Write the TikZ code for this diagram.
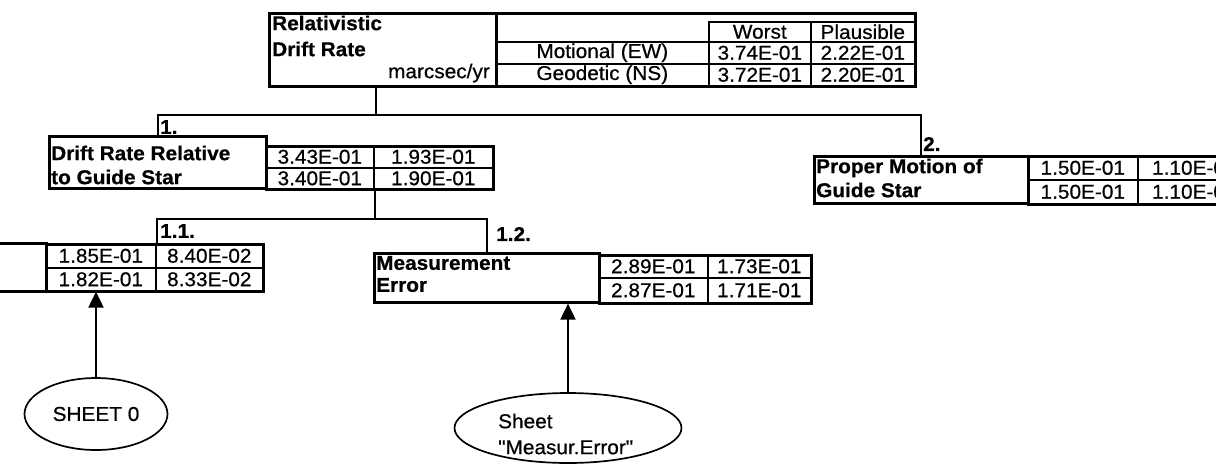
\documentclass[tikz,border=0pt]{standalone}
\usepackage{fontspec}
\setmainfont{Liberation Sans}[FakeStretch=1.04,FakeBold=0.6,Ligatures=TeXOff]
\usetikzlibrary{arrows.meta,shapes.geometric}
\newcommand{\bigtext}{\fontsize{20}{26}\selectfont}

\begin{document}
\begin{tikzpicture}[x=1pt,y=-1pt,
	frame/.style={draw,line width=2.6pt,inner sep=0pt,anchor=north west},
	cell/.style={draw,line width=1.6pt,inner sep=0pt,anchor=north west,font=\bigtext},
	ttl/.style={inner sep=0pt,anchor=west,font=\bigtext\bfseries},
	tag/.style={inner sep=0pt,anchor=west,font=\bigtext\bfseries},
	link/.style={line width=1.9pt},
	feed/.style={line width=1.9pt,-{Triangle[width=15pt,length=16pt]}},
	sheet/.style={draw,ellipse,line width=1.7pt,inner sep=0pt,font=\bigtext}]
	\useasboundingbox (0,0) rectangle (1216,467);
	\clip (0,0) rectangle (1216,467);
	% Nodes
	\node[frame,minimum width=646pt,minimum height=73pt] (top) at (268,12) {};
	\node[frame,minimum width=227pt,minimum height=73pt] (topttl) at (268,12) {};
	\node[ttl] (rel1) at (272,23) {Relativistic};
	\node[ttl] (rel2) at (272,49) {Drift Rate};
	\node[inner sep=0pt,anchor=east,font=\bigtext] (unit) at (490,73) {marcsec/yr};
	\node[cell,minimum width=102pt,minimum height=20pt] (hw) at (708,21) {Worst};
	\node[cell,minimum width=104pt,minimum height=20pt] (hp) at (810,21) {Plausible};
	\node[cell,minimum width=213pt,minimum height=22pt] (rm) at (495,41) {Motional (EW)};
	\node[cell,minimum width=102pt,minimum height=22pt] (mw) at (708,41) {3.74E-01};
	\node[cell,minimum width=104pt,minimum height=22pt] (mp) at (810,41) {2.22E-01};
	\node[cell,minimum width=213pt,minimum height=22pt] (rg) at (495,63) {Geodetic (NS)};
	\node[cell,minimum width=102pt,minimum height=22pt] (gw) at (708,63) {3.72E-01};
	\node[cell,minimum width=104pt,minimum height=22pt] (gp) at (810,63) {2.20E-01};

	\node[frame,minimum width=217pt,minimum height=52pt] (drift) at (48,135) {};
	\node[ttl] (drift1) at (51,153) {Drift Rate Relative};
	\node[ttl] (drift2) at (51,177) {to Guide Star};
	\node[cell,minimum width=108pt,minimum height=22pt] (d11) at (265,145) {3.43E-01};
	\node[cell,minimum width=119pt,minimum height=22pt] (d12) at (373,145) {1.93E-01};
	\node[cell,minimum width=108pt,minimum height=21pt] (d21) at (265,167) {3.40E-01};
	\node[cell,minimum width=119pt,minimum height=21pt] (d22) at (373,167) {1.90E-01};
	\node[frame,minimum width=227pt,minimum height=43pt] (dval) at (265,145) {};

	\node[frame,minimum width=214pt,minimum height=47pt] (prop) at (813,155) {};
	\node[ttl] (prop1) at (816,168) {Proper Motion of};
	\node[ttl] (prop2) at (816,190) {Guide Star};
	\node[cell,minimum width=110pt,minimum height=24pt] (p11) at (1027,155) {1.50E-01};
	\node[cell,minimum width=113pt,minimum height=24pt] (p12) at (1137,155) {1.10E-01};
	\node[cell,minimum width=110pt,minimum height=24pt] (p21) at (1027,179) {1.50E-01};
	\node[cell,minimum width=113pt,minimum height=24pt] (p22) at (1137,179) {1.10E-01};
	\node[frame,minimum width=223pt,minimum height=48pt] (pval) at (1027,155) {};

	\node[frame,minimum width=245pt,minimum height=48pt] (obs) at (-200,242) {};
	\node[cell,minimum width=110pt,minimum height=24pt] (e11) at (45,243) {1.85E-01};
	\node[cell,minimum width=107pt,minimum height=24pt] (e12) at (155,243) {8.40E-02};
	\node[cell,minimum width=110pt,minimum height=23pt] (e21) at (45,267) {1.82E-01};
	\node[cell,minimum width=107pt,minimum height=23pt] (e22) at (155,267) {8.33E-02};
	\node[frame,minimum width=217pt,minimum height=47pt] (eval) at (45,243) {};

	\node[frame,minimum width=225pt,minimum height=49pt] (meas) at (373,252) {};
	\node[ttl] (meas1) at (376,263) {Measurement};
	\node[ttl] (meas2) at (376,285) {Error};
	\node[cell,minimum width=109pt,minimum height=23pt] (m11) at (598,254) {2.89E-01};
	\node[cell,minimum width=103pt,minimum height=23pt] (m12) at (707,254) {1.73E-01};
	\node[cell,minimum width=109pt,minimum height=25pt] (m21) at (598,277) {2.87E-01};
	\node[cell,minimum width=103pt,minimum height=25pt] (m22) at (707,277) {1.71E-01};
	\node[frame,minimum width=212pt,minimum height=48pt] (mval) at (598,254) {};

	\node[tag] (n1) at (160,127) {1.};
	\node[tag] (n2) at (923,144) {2.};
	\node[tag] (n11) at (160,231) {1.1.};
	\node[tag] (n12) at (496,234) {1.2.};

	\node[sheet,minimum width=143pt,minimum height=72pt] (s0) at (96,414) {SHEET 0};
	\node[sheet,minimum width=227pt,minimum height=70pt] (sm) at (568,428) {};
	\node[inner sep=0pt,align=left,font=\bigtext,anchor=west] (smtext) at (498,434) {Sheet\\"Measur.Error"};

	\coordinate (bus1) at (0,115);
	\coordinate (bus2) at (0,219);
	\coordinate (stem0) at (376,0);
	% Edges
	\draw[link] (topttl.south -| stem0) -- (stem0 |- bus1);
	\draw[link] (drift.north) -- (drift.north |- bus1) -- (prop.north |- bus1) -- (prop.north);
	\draw[link] (d21.south east) -- (d21.south east |- bus2);
	\draw[link] (e11.north east) -- (e11.north east |- bus2) -- (meas.north |- bus2) -- (meas.north);
	\draw[feed] (s0.north) -- (s0.north |- e21.south);
	\draw[feed] (sm.north) -- (sm.north |- meas.south);
\end{tikzpicture}
\end{document}
